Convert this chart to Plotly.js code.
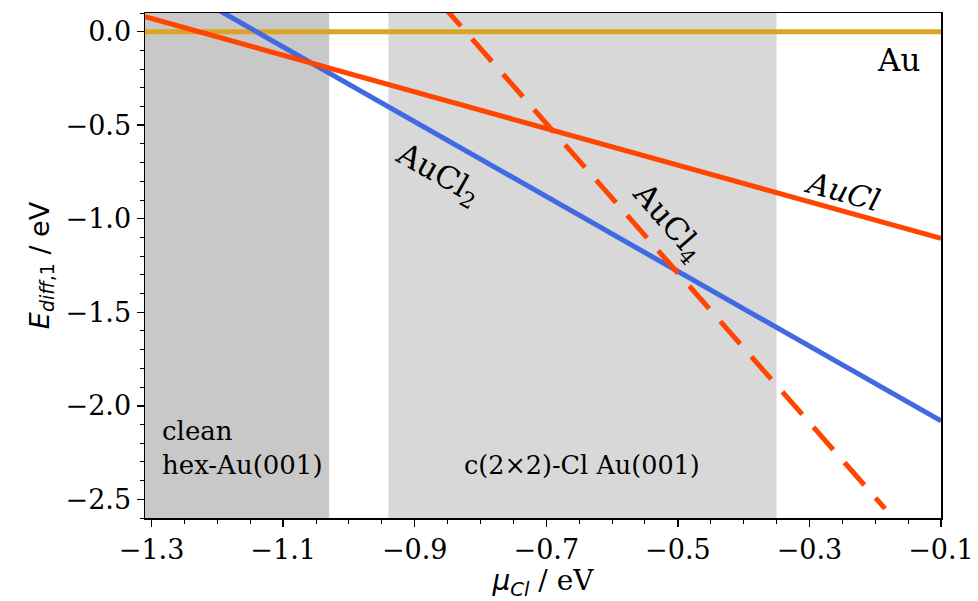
<!DOCTYPE html>
<html><head><meta charset="utf-8">
<script src="https://cdn.plot.ly/plotly-3.0.1.min.js"></script>
<style>html,body{margin:0;padding:0;background:#fff}</style>
</head><body>
<div id="chart" style="width:978px;height:601px"></div>
<script>
// Data
const auX = [-1.31, -0.1];
const auY = [0.0, 0.0];
const auclX = [-1.31, -0.1];
const auclY = [0.080, -1.105];
const aucl2X = [-1.31, -0.1];
const aucl2Y = [0.339, -2.081];
const aucl4X = [-0.86, -0.185];
const aucl4Y = [0.15, -2.55];
const regionStart = [-1.35, -0.94];
const regionEnd = [-1.03, -0.35];
const regionColors = ['#c8c8c8', '#d8d8d8'];
const xTicks = [-1.3, -1.1, -0.9, -0.7, -0.5, -0.3, -0.1];
const yTicks = [0.0, -0.5, -1.0, -1.5, -2.0, -2.5];

const serif = 'DejaVu Serif';
const traces = [
  {x: auX, y: auY, mode: 'lines', line: {color: '#DAA520', width: 5}, hoverinfo: 'skip'},
  {x: aucl2X, y: aucl2Y, mode: 'lines', line: {color: '#4169E1', width: 5}, hoverinfo: 'skip'},
  {x: auclX, y: auclY, mode: 'lines', line: {color: '#FF4500', width: 5}, hoverinfo: 'skip'},
  {x: aucl4X, y: aucl4Y, mode: 'lines', line: {color: '#FF4500', width: 5, dash: '30px,17px'}, hoverinfo: 'skip'}
];

const shapes = regionStart.map((s, i) => ({
  type: 'rect', xref: 'x', yref: 'paper', x0: s, x1: regionEnd[i], y0: 0, y1: 1,
  fillcolor: regionColors[i], line: {width: 0}, layer: 'below'
}));

const ann = (text, x, y, angle, size, extra) => Object.assign({
  text: text, x: x, y: y, xref: 'x', yref: 'y', showarrow: false,
  textangle: angle, font: {family: serif, size: size, color: '#000'}
}, extra || {});

const annotations = [
  ann('Au', -0.165, -0.15, 0, 31),
  ann('<i>AuCl</i>', -0.249, -0.857, 15.5, 30),
  ann('AuCl<sub>2</sub>', -0.866, -0.766, 29.4, 31),
  ann('AuCl<sub>4</sub>', -0.516, -1.022, 49, 31),
  ann('clean<br>hex-Au(001)', -1.287, -2.227, 0, 26, {xanchor: 'left', align: 'left'}),
  ann('c(2×2)-Cl Au(001)', -0.646, -2.318, 0, 25.5)
];

const layout = {
  width: 978, height: 601,
  margin: {l: 145, r: 37, t: 13, b: 83},
  paper_bgcolor: '#fff', plot_bgcolor: '#fff',
  showlegend: false,
  shapes: shapes,
  annotations: annotations,
  xaxis: {
    range: [-1.31, -0.1], tickvals: xTicks, tickformat: '.1f',
    ticks: 'outside', ticklen: 7, tickwidth: 1.5, tickcolor: '#000',
    minor: {dtick: 0.05, tick0: -1.3, ticks: 'outside', ticklen: 4, tickwidth: 1, tickcolor: '#000'},
    showline: true, linecolor: '#000', linewidth: 1.5, mirror: true,
    showgrid: false, zeroline: false,
    tickfont: {family: serif, size: 27, color: '#000'},
    title: {text: '<span style="font-family:DejaVu Sans"><i>μ</i><sub><i>Cl</i></sub></span> / eV', font: {family: serif, size: 28, color: '#000'}, standoff: 6}
  },
  yaxis: {
    range: [-2.6, 0.1], tickvals: yTicks, tickformat: '.1f',
    ticks: 'outside', ticklen: 7, tickwidth: 1.5, tickcolor: '#000',
    minor: {dtick: 0.1, tick0: 0, ticks: 'outside', ticklen: 4, tickwidth: 1, tickcolor: '#000'},
    showline: true, linecolor: '#000', linewidth: 1.5, mirror: true,
    showgrid: false, zeroline: false,
    tickfont: {family: serif, size: 27, color: '#000'},
    title: {text: '<i>E</i><sub><i>diff</i>,1</sub> / eV', font: {family: 'DejaVu Sans', size: 27, color: '#000'}, standoff: 8}
  }
};

Plotly.newPlot('chart', traces, layout, {displayModeBar: false, staticPlot: true});
</script>
</body></html>
